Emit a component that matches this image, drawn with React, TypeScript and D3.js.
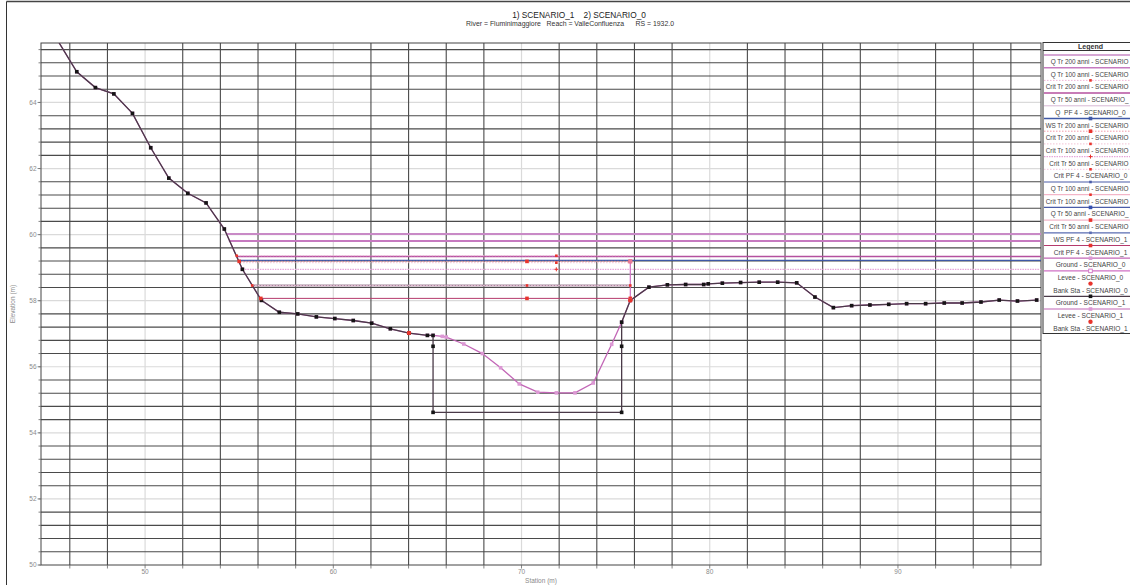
import * as d3 from 'd3';

// ---- data ----
const stationS1 = [
  44.4, 46.37, 47.36, 48.34, 49.33, 50.3, 51.26, 52.27, 53.24, 54.21, 55.17, 56.18, 57.13, 58.11, 59.1,
  60.08, 61.06, 62.04, 63.03, 64.02, 65.0, 65.3, 65.3, 65.3, 75.32, 75.32, 75.32, 75.78, 76.77, 77.75,
  78.72, 79.68, 79.92, 80.67, 81.64, 82.63, 83.61, 84.62, 85.59, 86.57, 87.54, 88.51, 89.51, 90.46,
  91.47, 92.46, 93.41, 94.41, 95.38, 96.35, 97.37,
];
const elevS1 = [
  66.77, 64.93, 64.45, 64.26, 63.67, 62.63, 61.71, 61.25, 60.96, 60.17, 58.95, 58.01, 57.65, 57.6, 57.51,
  57.46, 57.4, 57.32, 57.15, 57.02, 56.95, 56.95, 56.62, 54.62, 54.62, 56.62, 57.35, 58.01, 58.41, 58.48,
  58.49, 58.49, 58.51, 58.53, 58.55, 58.56, 58.56, 58.54, 58.11, 57.79, 57.85, 57.87, 57.89, 57.91,
  57.91, 57.93, 57.93, 57.96, 58.02, 57.99, 58.02,
];
const stationS0 = [
  44.4, 46.37, 47.36, 48.34, 49.33, 50.3, 51.26, 52.27, 53.24, 54.21, 55.17, 56.18, 57.13, 58.11, 59.1,
  60.08, 61.06, 62.04, 63.03, 64.02, 65.0, 65.3, 65.79, 66.0, 66.93, 67.92, 68.89, 69.88, 70.86, 71.85,
  72.84, 73.81, 74.79, 75.32, 75.78, 76.77, 77.75, 78.72, 79.68, 79.92, 80.67, 81.64, 82.63, 83.61,
  84.62, 85.59, 86.57, 87.54, 88.51, 89.51, 90.46, 91.47, 92.46, 93.41, 94.41, 95.38, 96.35, 97.37,
];
const elevS0 = [
  66.77, 64.93, 64.45, 64.26, 63.67, 62.63, 61.71, 61.25, 60.96, 60.17, 58.95, 58.01, 57.65, 57.6, 57.51,
  57.46, 57.4, 57.32, 57.15, 57.02, 56.95, 56.95, 56.92, 56.9, 56.69, 56.4, 55.97, 55.48, 55.23, 55.21,
  55.21, 55.51, 56.68, 57.35, 58.01, 58.41, 58.48, 58.49, 58.49, 58.51, 58.53, 58.55, 58.56, 58.56,
  58.54, 58.11, 57.79, 57.85, 57.87, 57.89, 57.91, 57.91, 57.93, 57.93, 57.96, 58.02, 57.99, 58.02,
];

// water / energy / critical profiles
const profileNames = [
  'Q Tr 200 anni - SCENARIO_1',
  'Q Tr 100 anni - SCENARIO_1',
  'Q Tr 50 anni - SCENARIO_1',
  'Crit Tr 200 anni - SCENARIO_1',
  'WS Tr 200 anni - SCENARIO_1',
  'Crit Tr 200 anni - SCENARIO_0',
  'Crit Tr 100 anni - SCENARIO_1',
  'Crit Tr 50 anni - SCENARIO_1',
  'Q PF 4 - SCENARIO_0',
  'Crit PF 4 - SCENARIO_0',
  'Crit PF 4 - SCENARIO_1',
];
const profileElev = [60.02, 59.81, 59.34, 59.36, 59.22, 59.19, 59.15, 58.95, 58.46, 58.46, 58.07];
const profileFrom = [54.34, 54.45, 54.87, 54.87, 54.95, 55.0, 55.05, 55.17, 55.69, 55.69, 56.15];
const profileTo = [97.6, 97.6, 97.6, 75.78, 97.6, 75.78, 75.78, 97.6, 75.78, 75.78, 75.78];
const profileMarks: number[][] = [
  [], [], [], [54.87, 71.85], [], [55.0, 70.29, 75.78], [71.85], [71.85], [], [55.69, 70.29, 75.78], [56.15, 70.29, 75.78],
];

const leveeS0Sta = [75.78, 75.78];
const leveeS0Elev = [58.01, 59.19];
const bankS0Sta = [64.02, 75.78];
const bankS0Elev = [57.02, 58.01];

const xTicks = [50, 60, 70, 80, 90];
const yTicks = [50, 52, 54, 56, 58, 60, 62, 64];

// legend series (keys into styles) and the text shown for each
const legendNames = [
  'Q Tr 200 anni - SCENARIO_1',
  'Q Tr 100 anni - SCENARIO_1',
  'Crit Tr 200 anni - SCENARIO_1',
  'Q Tr 50 anni - SCENARIO_1',
  'Q  PF 4 - SCENARIO_0',
  'WS Tr 200 anni - SCENARIO_1',
  'Crit Tr 200 anni - SCENARIO_0',
  'Crit Tr 100 anni - SCENARIO_1',
  'Crit Tr 50 anni - SCENARIO_1',
  'Crit PF 4 - SCENARIO_0',
  'Q Tr 100 anni - SCENARIO_0',
  'Crit Tr 100 anni - SCENARIO_0',
  'Q Tr 50 anni - SCENARIO_0',
  'Crit Tr 50 anni - SCENARIO_0',
  'WS PF 4 - SCENARIO_1',
  'Crit PF 4 - SCENARIO_1',
  'Ground - SCENARIO_0',
  'Levee - SCENARIO_0',
  'Bank Sta - SCENARIO_0',
  'Ground - SCENARIO_1',
  'Levee - SCENARIO_1',
  'Bank Sta - SCENARIO_1',
];
const legendLabels = [
  'Q Tr 200 anni - SCENARIO',
  'Q Tr 100 anni - SCENARIO',
  'Crit Tr 200 anni - SCENARIO',
  'Q Tr 50 anni - SCENARIO_',
  'Q  PF 4 - SCENARIO_0',
  'WS Tr 200 anni - SCENARIO',
  'Crit Tr 200 anni - SCENARIO',
  'Crit Tr 100 anni - SCENARIO',
  'Crit Tr 50 anni - SCENARIO',
  'Crit PF 4 - SCENARIO_0',
  'Q Tr 100 anni - SCENARIO',
  'Crit Tr 100 anni - SCENARIO',
  'Q Tr 50 anni - SCENARIO_',
  'Crit Tr 50 anni - SCENARIO',
  'WS PF 4 - SCENARIO_1',
  'Crit PF 4 - SCENARIO_1',
  'Ground - SCENARIO_0',
  'Levee - SCENARIO_0',
  'Bank Sta - SCENARIO_0',
  'Ground - SCENARIO_1',
  'Levee - SCENARIO_1',
  'Bank Sta - SCENARIO_1',
];

// ---- styles ----
type Style = { stroke?: string; width?: number; dash?: string; marker?: string; mcolor?: string };
const RED = '#e8342c';
const styles: Record<string, Style> = {
  'Q Tr 200 anni - SCENARIO_1': { stroke: '#c98ac6', width: 2 },
  'Q Tr 100 anni - SCENARIO_1': { stroke: '#c67ac0', width: 2 },
  'Crit Tr 200 anni - SCENARIO_1': { stroke: '#f0b4d6', width: 1, dash: '1.5,1.5', marker: 'ssquare', mcolor: RED },
  'Q Tr 50 anni - SCENARIO_1': { stroke: '#b4509f', width: 1.5 },
  'Q  PF 4 - SCENARIO_0': { stroke: '#d8b8d4', width: 1 },
  'Q PF 4 - SCENARIO_0': { stroke: '#a48a9c', width: 2 },
  'WS Tr 200 anni - SCENARIO_1': { stroke: '#3f58a6', width: 1.3, marker: 'square', mcolor: '#3f58a6' },
  'Crit Tr 200 anni - SCENARIO_0': { stroke: '#f29aa8', width: 1, dash: '1.5,1.5', marker: 'square', mcolor: RED },
  'Crit Tr 100 anni - SCENARIO_1': { stroke: '#f2c2d4', width: 1, dash: '1.5,1.5', marker: 'ssquare', mcolor: RED },
  'Crit Tr 50 anni - SCENARIO_1': { stroke: '#e6a6da', width: 1.3, dash: '1.5,1', marker: 'plus', mcolor: RED },
  'Crit PF 4 - SCENARIO_0': { stroke: '#f2c4dc', width: 1, dash: '1.5,1.5', marker: 'ssquare', mcolor: RED },
  'Q Tr 100 anni - SCENARIO_0': { stroke: '#4a5ca8', width: 1.2, marker: 'ssquare', mcolor: '#4a5ca8' },
  'Crit Tr 100 anni - SCENARIO_0': { stroke: '#f0a4bc', width: 1, marker: 'ssquare', mcolor: RED },
  'Q Tr 50 anni - SCENARIO_0': { stroke: '#4a5ca8', width: 1.2, marker: 'square', mcolor: '#3550b0' },
  'Crit Tr 50 anni - SCENARIO_0': { stroke: '#f0a4bc', width: 1, marker: 'square', mcolor: RED },
  'WS PF 4 - SCENARIO_1': { stroke: '#5a6cb2', width: 1.2, marker: 'ssquare', mcolor: '#5a6cb2' },
  'Crit PF 4 - SCENARIO_1': { stroke: '#b53a6c', width: 1, marker: 'square', mcolor: RED },
  'Ground - SCENARIO_0': { stroke: '#c266b6', width: 1.3, marker: 'square', mcolor: '#dc98d4' },
  'Levee - SCENARIO_0': { stroke: '#d070c4', width: 1.2, marker: 'osquare', mcolor: '#d070c4' },
  'Bank Sta - SCENARIO_0': { marker: 'circle', mcolor: RED },
  'Ground - SCENARIO_1': { stroke: '#4a3a48', width: 1.3, marker: 'square', mcolor: '#151515' },
  'Levee - SCENARIO_1': { stroke: '#c266b6', width: 1.2, marker: 'square', mcolor: '#dc98d4' },
  'Bank Sta - SCENARIO_1': { marker: 'circle', mcolor: RED },
};

const FONT = '"Liberation Sans", Arial, sans-serif';

const x = d3.scaleLinear().domain([44.47, 97.6]).range([41, 1041]);
const y = d3.scaleLinear().domain([50, 65.8]).range([565, 43]);

function Marker({ type, cx, cy, color }: { type?: string; cx: number; cy: number; color?: string }) {
  if (!type) return null;
  switch (type) {
    case 'square':
      return <rect x={cx - 1.8} y={cy - 1.8} width={3.6} height={3.6} fill={color} />;
    case 'ssquare':
      return <rect x={cx - 1.3} y={cy - 1.3} width={2.6} height={2.6} fill={color} />;
    case 'osquare':
      return <rect x={cx - 1.8} y={cy - 1.8} width={3.6} height={3.6} fill="#fff" stroke={color} strokeWidth={0.9} />;
    case 'circle':
      return <circle cx={cx} cy={cy} r={2.2} fill={color} />;
    case 'plus':
      return (
        <path d={`M${cx - 2},${cy}H${cx + 2}M${cx},${cy - 2}V${cy + 2}`} stroke={color} strokeWidth={1} />
      );
    default:
      return null;
  }
}

const line = d3
  .line<[number, number]>()
  .x((d) => x(d[0]))
  .y((d) => y(d[1]));

export default function App() {
  const xDark = d3.range(46, 98, 2).filter((v) => v % 10 !== 0);
  const yDarkIdx = d3.range(1, 40).filter((k) => k % 5 !== 0);
  const yMinorIdx = d3.range(0, 40);

  const groundS0 = stationS0.map((s, i) => [s, elevS0[i]] as [number, number]);
  const groundS1 = stationS1.map((s, i) => [s, elevS1[i]] as [number, number]);
  const leveeS0 = leveeS0Sta.map((s, i) => [s, leveeS0Elev[i]] as [number, number]);

  const gS0 = styles['Ground - SCENARIO_0'];
  const gS1 = styles['Ground - SCENARIO_1'];
  const lv0 = styles['Levee - SCENARIO_0'];
  const bk0 = styles['Bank Sta - SCENARIO_0'];

  const lgLeft = 1043;
  const lgCenter = 1090.5;

  return (
    <svg
      width={1130}
      height={585}
      style={{ position: 'absolute', left: 0, top: 0, background: '#fff' }}
      fontFamily={FONT}
    >
      <defs>
        <clipPath id="plotClip">
          <rect x={41} y={43} width={1000} height={522} />
        </clipPath>
      </defs>

      {/* outer frame */}
      <line x1={6.5} x2={1130} y1={1.5} y2={1.5} stroke="#444" strokeWidth={1.5} />
      <line x1={6.5} x2={6.5} y1={1.5} y2={585} stroke="#333" strokeWidth={1} />

      {/* titles */}
      <text x={579} y={17.6} fontSize={8.3} textAnchor="middle" fill="#222" style={{ whiteSpace: 'pre' }}>
        {'1) SCENARIO_1    2) SCENARIO_0'}
      </text>
      <text x={570} y={26.3} fontSize={6.9} textAnchor="middle" fill="#333" style={{ whiteSpace: 'pre' }}>
        {'River = Fluminimaggiore   Reach = ValleConfluenza      RS = 1932.0'}
      </text>

      {/* grid */}
      <g>
        {xTicks.map((v) => (
          <line key={'xl' + v} x1={x(v)} x2={x(v)} y1={43} y2={565} stroke="#dadada" strokeWidth={1.2} />
        ))}
        {yTicks.slice(1).map((v) => (
          <line key={'yl' + v} x1={41} x2={1041} y1={y(v)} y2={y(v)} stroke="#dadada" strokeWidth={1.2} />
        ))}
        {xDark.map((v) => (
          <line key={'xd' + v} x1={x(v)} x2={x(v)} y1={43} y2={565} stroke="#4a4a4a" strokeWidth={1.1} />
        ))}
        {yDarkIdx.map((k) => (
          <line key={'yd' + k} x1={41} x2={1041} y1={y(50 + k * 0.4)} y2={y(50 + k * 0.4)} stroke="#4a4a4a" strokeWidth={1.1} />
        ))}
        <rect x={41} y={43} width={1000} height={522} fill="none" stroke="#444" strokeWidth={1} />
      </g>

      {/* axes */}
      <g fill="#8a8a8a" fontSize={6.5}>
        {yMinorIdx.map((k) => (
          <line key={'ym' + k} x1={38.5} x2={41} y1={y(50 + k * 0.4)} y2={y(50 + k * 0.4)} stroke="#666" strokeWidth={0.8} />
        ))}
        {yTicks.map((v) => (
          <g key={'yt' + v}>
            <line x1={37.5} x2={41} y1={y(v)} y2={y(v)} stroke="#777" strokeWidth={0.8} />
            <text x={36.5} y={y(v) + 2.3} textAnchor="end">
              {v}
            </text>
          </g>
        ))}
        {d3.range(46, 98, 2).map((v) => (
          <line key={'xt' + v} x1={x(v)} x2={x(v)} y1={565} y2={568.5} stroke="#666" strokeWidth={0.8} />
        ))}
        {xTicks.map((v) => (
          <text key={'xtl' + v} x={x(v)} y={574} textAnchor="middle">
            {v}
          </text>
        ))}
        <text x={541} y={583.3} textAnchor="middle">
          Station (m)
        </text>
        <text transform="translate(15,304) rotate(-90)" textAnchor="middle">
          Elevation (m)
        </text>
      </g>

      {/* plot content */}
      <g clipPath="url(#plotClip)">
        {profileNames.map((n, i) => {
          const st = styles[n];
          return (
            <line
              key={'p' + i}
              x1={x(profileFrom[i])}
              x2={x(profileTo[i])}
              y1={y(profileElev[i])}
              y2={y(profileElev[i])}
              stroke={st.stroke}
              strokeWidth={st.width}
              strokeDasharray={st.dash}
            />
          );
        })}

        <path d={line(groundS0) ?? ''} fill="none" stroke={gS0.stroke} strokeWidth={gS0.width} />
        {groundS0.map((d, i) => (
          <Marker key={'g0' + i} type={gS0.marker} cx={x(d[0])} cy={y(d[1])} color={gS0.mcolor} />
        ))}
        <path d={line(groundS1) ?? ''} fill="none" stroke={gS1.stroke} strokeWidth={gS1.width} />
        {groundS1.map((d, i) => (
          <Marker key={'g1' + i} type={gS1.marker} cx={x(d[0])} cy={y(d[1])} color={gS1.mcolor} />
        ))}

        <path d={line(leveeS0) ?? ''} fill="none" stroke={lv0.stroke} strokeWidth={lv0.width} />

        {profileNames.map((n, i) =>
          profileMarks[i].map((m, j) => (
            <Marker
              key={'pm' + i + '-' + j}
              type={styles[n].marker}
              cx={x(m)}
              cy={y(profileElev[i])}
              color={styles[n].mcolor}
            />
          ))
        )}

        {leveeS0.map((d, i) => (
          <rect key={'lv' + i} x={x(d[0]) - 2} y={y(d[1]) - 2} width={4} height={4} fill="#e87a9a" />
        ))}
        {bankS0Sta.map((s, i) => (
          <Marker key={'bk' + i} type={bk0.marker} cx={x(s)} cy={y(bankS0Elev[i])} color={bk0.mcolor} />
        ))}
      </g>

      {/* legend */}
      <g>
        <rect x={lgLeft} y={42.5} width={110} height={291} fill="#fff" stroke="#333" strokeWidth={1} />
        <text x={lgCenter} y={48.6} fontSize={7} fontWeight="bold" textAnchor="middle" fill="#333">
          Legend
        </text>
        <line x1={lgLeft} x2={1130} y1={50.5} y2={50.5} stroke="#333" strokeWidth={1} />
        {legendNames.map((n, i) => {
          const st = styles[n];
          const sy = 55 + 12.7 * i;
          const label = legendLabels[i];
          const cut = !/_\d$/.test(label);
          return (
            <g key={'lg' + i}>
              {st.stroke && (
                <line
                  x1={lgLeft + 1}
                  x2={1130}
                  y1={sy}
                  y2={sy}
                  stroke={st.stroke}
                  strokeWidth={Math.min(st.width ?? 1, 1.5)}
                  strokeDasharray={st.dash}
                />
              )}
              <Marker type={st.marker} cx={lgCenter} cy={sy} color={st.mcolor} />
              <text
                x={cut ? 1128.5 : lgCenter}
                y={sy + 9}
                fontSize={cut ? 6.4 : 6.6}
                textAnchor={cut ? 'end' : 'middle'}
                fill="#444"
                style={{ whiteSpace: 'pre' }}
              >
                {label}
              </text>
            </g>
          );
        })}
      </g>
    </svg>
  );
}
